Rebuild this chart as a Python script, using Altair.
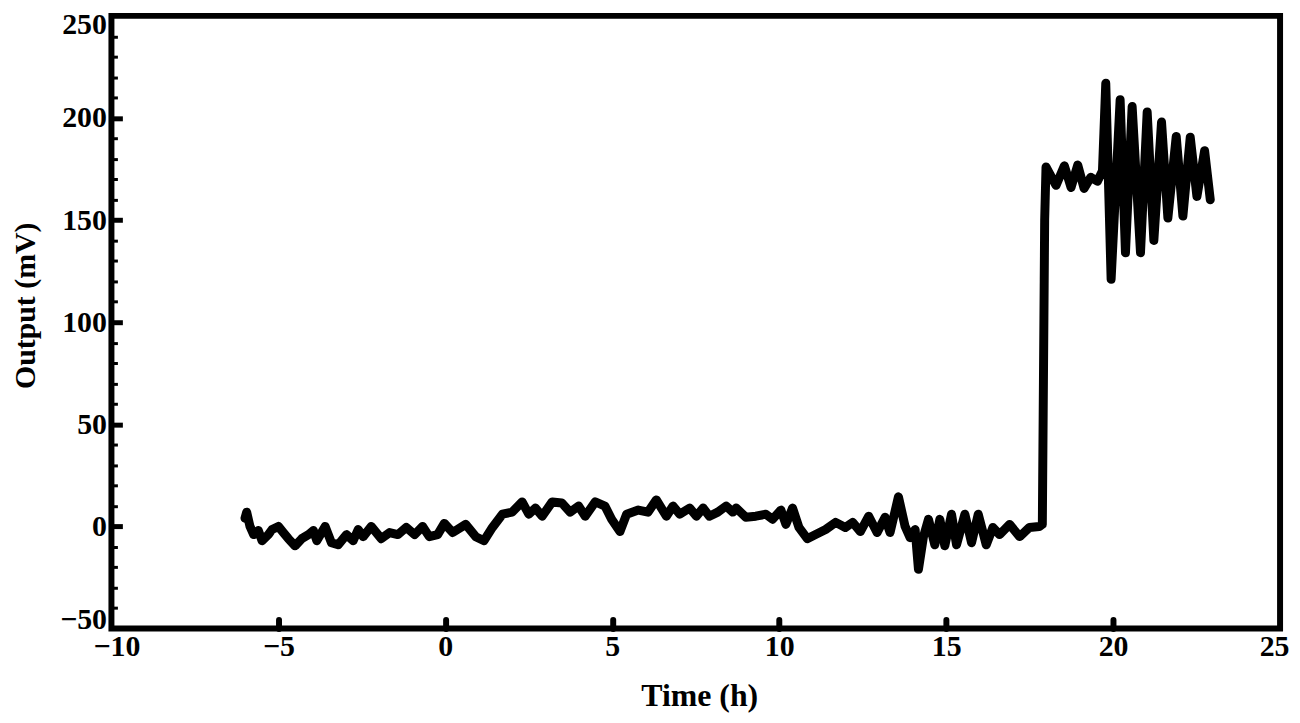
import altair as alt
import pandas as pd

time_h = [-6.0, -5.95, -5.85, -5.74, -5.6, -5.49, -5.3, -5.19, -5.0, -4.85, -4.70, -4.50, -4.3, -4.10,
          -3.95, -3.85, -3.60, -3.41, -3.21, -2.96, -2.76, -2.61, -2.46, -2.22, -1.92, -1.67, -1.42,
          -1.17, -0.92, -0.68, -0.48, -0.23, -0.03, 0.22, 0.61, 0.91, 1.16, 1.41, 1.71, 2.0, 2.30,
          2.50, 2.70, 2.90, 3.20, 3.49, 3.74, 3.99, 4.19, 4.49, 4.78, 4.98, 5.23, 5.43, 5.78, 6.07,
          6.32, 6.62, 6.82, 7.02, 7.32, 7.52, 7.72, 7.91, 8.16, 8.41, 8.61, 8.71, 9.0, 9.30, 9.60,
          9.80, 10.05, 10.20, 10.40, 10.59, 10.84, 11.09, 11.39, 11.69, 11.98, 12.2, 12.43, 12.68,
          12.93, 13.17, 13.32, 13.57, 13.77, 13.92, 14.07, 14.17, 14.32, 14.47, 14.66, 14.81, 14.96,
          15.16, 15.31, 15.56, 15.76, 15.96, 16.20, 16.40, 16.60, 16.90, 17.20, 17.49, 17.79, 17.88,
          17.95, 17.99, 18.09, 18.29, 18.54, 18.74, 18.94, 19.13, 19.33, 19.53, 19.68, 19.78, 19.94,
          20.21, 20.37, 20.57, 20.82, 21.02, 21.22, 21.45, 21.64, 21.89, 22.09, 22.31, 22.51, 22.74,
          22.91]
output_mv = [4, 7, 0, -4, -2, -7, -4, -1.5, 0, -3, -6, -9.5, -6, -4,
             -2, -7, 0, -8, -9, -4, -7, -1.5, -5, 0, -6, -3, -4,
             -0.5, -4, 0, -5, -4, 1.5, -3, 1, -5, -7, -0.5, 6, 7, 12,
             6, 9, 5, 12, 11.5, 7, 10, 5, 12, 10, 3.5, -2.5, 6, 8, 7,
             13, 5, 10, 6, 9, 5, 9, 5, 7, 10, 7, 9, 4.5, 5, 6,
             3.5, 8, 1, 9, -0.5, -6, -4, -1.5, 2, -0.5, 2, -2.5, 5,
             -3, 4.5, -3, 14.5, 0, -5.5, -1.5, -21, -5, 3.5, -9, 3.5, -9.5,
             6, -9, 6, -8, 6, -9, -0.5, -4, 1, -5, -0.5, 0, 1,
             150, 176, 173, 167, 176.6, 166, 177, 165.5, 171, 169, 174, 217, 121,
             209, 134, 205.6, 134, 203, 140, 198, 151, 191, 152, 190.6, 161.6, 184,
             160]

x_ticks = [-10, -5, 0, 5, 10, 15, 20, 25]
y_ticks = [-50, 0, 50, 100, 150, 200, 250]
y_minor = list(range(-50, 251, 10))

df = pd.DataFrame({"t": time_h, "v": output_mv})

FONT = "Liberation Serif"
xscale = alt.Scale(domain=[-10, 25], nice=False, zero=False)
yscale = alt.Scale(domain=[-50, 250], nice=False, zero=False)

base = alt.Chart(df)

main = base.mark_line(color="black", strokeWidth=9, strokeJoin="round", strokeCap="round").encode(
    x=alt.X("t:Q", scale=xscale, axis=alt.Axis(
        title="Time (h)", values=x_ticks, ticks=False, domain=False, grid=False, format="d",
        orient="bottom", labelFlush=False,
        labelOffset={"condition": [{"test": "datum.value == 25", "value": -6},
                                   {"test": "datum.value == -10", "value": 5}], "value": 0},
        labelFont=FONT, labelFontSize=30, labelFontWeight="bold", labelColor="black", labelPadding=3,
        titleFont=FONT, titleFontSize=32, titleFontWeight="bold", titleColor="black",
        titleX=591, titleY=67, titleAlign="center", titleBaseline="middle")),
    y=alt.Y("v:Q", scale=yscale, axis=alt.Axis(
        title="Output (mV)", values=y_ticks, ticks=False, domain=False, grid=False, format="d",
        orient="left", labelFlush=False,
        labelOffset={"condition": [{"test": "datum.value == 250", "value": 9},
                                   {"test": "datum.value == -50", "value": -9}], "value": 0},
        labelFont=FONT, labelFontSize=30, labelFontWeight="bold", labelColor="black", labelPadding=5,
        titleFont=FONT, titleFontSize=30, titleFontWeight="bold", titleColor="black",
        titleX=-86, titleY=291, titleAngle=-90, titleAlign="center", titleBaseline="middle")),
)

xtick_layer = base.mark_line(opacity=0).encode(
    x=alt.X("t:Q", scale=xscale, axis=alt.Axis(
        orient="bottom", values=x_ticks[1:-1], labels=False, domain=False, grid=False, title=None,
        ticks=True, tickSize=9, tickWidth=6, tickColor="black", offset=-9, tickCap="round")),
    y=alt.Y("v:Q", scale=yscale, axis=None),
)

ymin_layer = base.mark_line(opacity=0).encode(
    x=alt.X("t:Q", scale=xscale, axis=None),
    y=alt.Y("v:Q", scale=yscale, axis=alt.Axis(
        orient="left", values=y_minor, labels=False, domain=False, grid=False, title=None,
        ticks=True, tickSize=6, tickWidth=3, tickColor="black", offset=-6)),
)

ymaj_layer = base.mark_line(opacity=0).encode(
    x=alt.X("t:Q", scale=xscale, axis=None),
    y=alt.Y("v:Q", scale=yscale, axis=alt.Axis(
        orient="left", values=y_ticks[1:-1], labels=False, domain=False, grid=False, title=None,
        ticks=True, tickSize=11, tickWidth=5, tickColor="black", offset=-11)),
)

chart = alt.layer(main, xtick_layer, ymin_layer, ymaj_layer).resolve_axis(
    x="independent", y="independent"
).properties(
    width=1175, height=616,
    autosize=alt.AutoSizeParams(type="none"),
    padding={"left": 104, "top": 6, "right": 12, "bottom": 85},
    background="white",
).configure_view(stroke="black", strokeWidth=6)

chart.save("out.html", embed_options={"renderer": "svg", "actions": False})
